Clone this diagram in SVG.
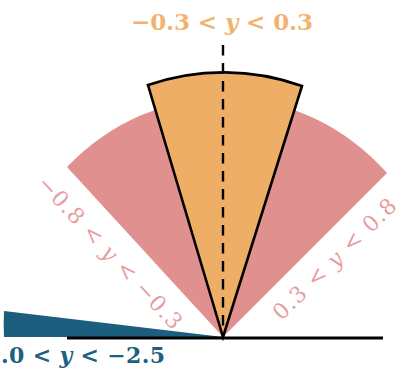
<svg xmlns="http://www.w3.org/2000/svg" width="401" height="373" viewBox="0 0 401 373">
<style>
  .lbl { font-family: "DejaVu Serif", "Liberation Serif", serif; }
  .b { font-weight: bold; }
  .it { font-style: italic; }
  .pinklbl { fill: #E79C9E; font-size: 22px; }
  .edge { stroke: #000; fill: none; }
</style>
<rect width="401" height="373" fill="#ffffff"/>
<g id="sector-pink">
  <path d="M223,337 L67,167 A224,239 0 0,1 387,173 Z" fill="#E0908F"/>
</g>
<g id="sector-blue">
  <path d="M223,337 L4,311 A219,234 0 0,0 4,337 Z" fill="#1C5E7E"/>
</g>
<g id="sector-orange">
  <path d="M223,337 L148,85 A247,264 0 0,1 302,86 Z" fill="#EFAE65" stroke="#000" stroke-width="2.6" stroke-linejoin="miter"/>
</g>
<g id="connectors">
  <line class="edge" x1="223" y1="45" x2="223" y2="337" stroke-width="2.4" stroke-dasharray="10.5 7.5"/>
  <line class="edge" x1="67" y1="338" x2="383" y2="338" stroke-width="3"/>
</g>
<g id="label-top">
  <text class="lbl b" x="222" y="30" font-size="23" fill="#F2B36E" text-anchor="middle" textLength="182" lengthAdjust="spacing">−0.3 &lt; <tspan class="it">y</tspan> &lt; 0.3</text>
</g>
<g id="label-left">
  <text class="lbl pinklbl" transform="translate(110,252.5) rotate(47)" text-anchor="middle" dominant-baseline="central" textLength="200" lengthAdjust="spacing">−0.8 &lt; <tspan class="it">y</tspan> &lt; −0.3</text>
</g>
<g id="label-right">
  <text class="lbl pinklbl" transform="translate(334.5,259) rotate(-44.3)" text-anchor="middle" dominant-baseline="central" textLength="163" lengthAdjust="spacing">0.3 &lt; <tspan class="it">y</tspan> &lt; 0.8</text>
</g>
<g id="label-bottom">
  <text class="lbl b" x="1" y="363" font-size="22" fill="#215F80" textLength="164" lengthAdjust="spacing">.0 &lt; <tspan class="it">y</tspan> &lt; −2.5</text>
</g>
</svg>
